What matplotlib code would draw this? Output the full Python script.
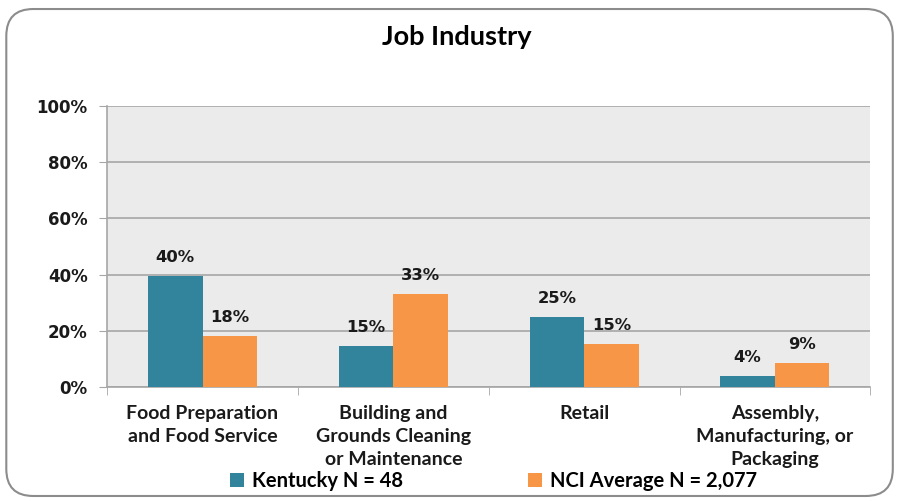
import numpy as np
import matplotlib.pyplot as plt
from matplotlib.patches import FancyBboxPatch
from matplotlib.ticker import FixedLocator

categories = [
    "Food Preparation\nand Food Service",
    "Building and\nGrounds Cleaning\nor Maintenance",
    "Retail",
    "Assembly,\nManufacturing, or\nPackaging",
]
kentucky = [39.6, 14.6, 25.0, 4.0]
nci_average = [18.1, 33.1, 15.3, 8.6]
series_names = ["Kentucky N = 48", "NCI Average N = 2,077"]
y_ticks = [0, 20, 40, 60, 80, 100]

teal = "#31849B"
orange = "#F79646"
label_font = "Lato"

fig = plt.figure(figsize=(9, 5.01), dpi=100)
fig.patch.set_facecolor("white")

# rounded chart border, kept behind the axes
border = FancyBboxPatch(
    (0.007, 0.01), 0.985, 0.972,
    boxstyle="round,pad=0,rounding_size=0.03",
    transform=fig.transFigure, facecolor="white",
    edgecolor="#8C8C8C", linewidth=1.5, mutation_aspect=900 / 501,
    zorder=-1,
)
fig.patches.append(border)

ax = fig.add_axes([0.119, 0.2275, 0.848, 0.561])
ax.set_facecolor("#EBEBEB")

x = np.arange(len(categories))
width = 0.286
bars_k = ax.bar(x - width / 2, kentucky, width, color=teal, label=series_names[0], zorder=3)
bars_n = ax.bar(x + width / 2, nci_average, width, color=orange, label=series_names[1], zorder=3)

for bars in (bars_k, bars_n):
    for b in bars:
        h = b.get_height()
        ax.annotate(f"{h:.0f}%", (b.get_x() + b.get_width() / 2, h),
                    xytext=(0, 8), textcoords="offset points",
                    ha="center", va="bottom", fontsize=11.8,
                    fontweight="bold", color="#1a1a1a", family="DejaVu Sans")

ax.set_xlim(-0.5, len(categories) - 0.5)
ax.set_ylim(0, 100)
ax.set_yticks(y_ticks)
ax.set_yticklabels([f"{t}%" for t in y_ticks], fontsize=12, fontweight="bold",
                   family="DejaVu Sans", color="#1a1a1a")
ax.yaxis.grid(True, color="#A6A6A6", linewidth=1.2, zorder=0)
ax.tick_params(axis="y", length=6, color="#A6A6A6", pad=8)

ax.set_xticks(x)
ax.set_xticklabels(categories, fontsize=14, fontweight="bold",
                   family=label_font, color="#1a1a1a", linespacing=1.42, va="top")
ax.tick_params(axis="x", which="major", length=0, pad=13)
ax.xaxis.set_minor_locator(FixedLocator(np.arange(-0.5, len(categories), 1.0)))
ax.tick_params(axis="x", which="minor", length=6, color="#A6A6A6")

for side in ("top", "right"):
    ax.spines[side].set_visible(False)
for side in ("left", "bottom"):
    ax.spines[side].set_color("#A6A6A6")
    ax.spines[side].set_linewidth(1.2)

fig.text(0.508, 0.926, "Job Industry", ha="center", va="center",
         fontsize=19.5, fontweight="bold", family=label_font, color="black")

fig.legend(handles=[bars_k, bars_n], labels=series_names, loc="center",
           bbox_to_anchor=(0.548, 0.04), ncol=2, frameon=False,
           prop={"family": label_font, "weight": "bold", "size": 14.5},
           handlelength=0.7, handleheight=0.7, handletextpad=0.4,
           columnspacing=6.2)

fig.savefig("out.png", dpi=100)
